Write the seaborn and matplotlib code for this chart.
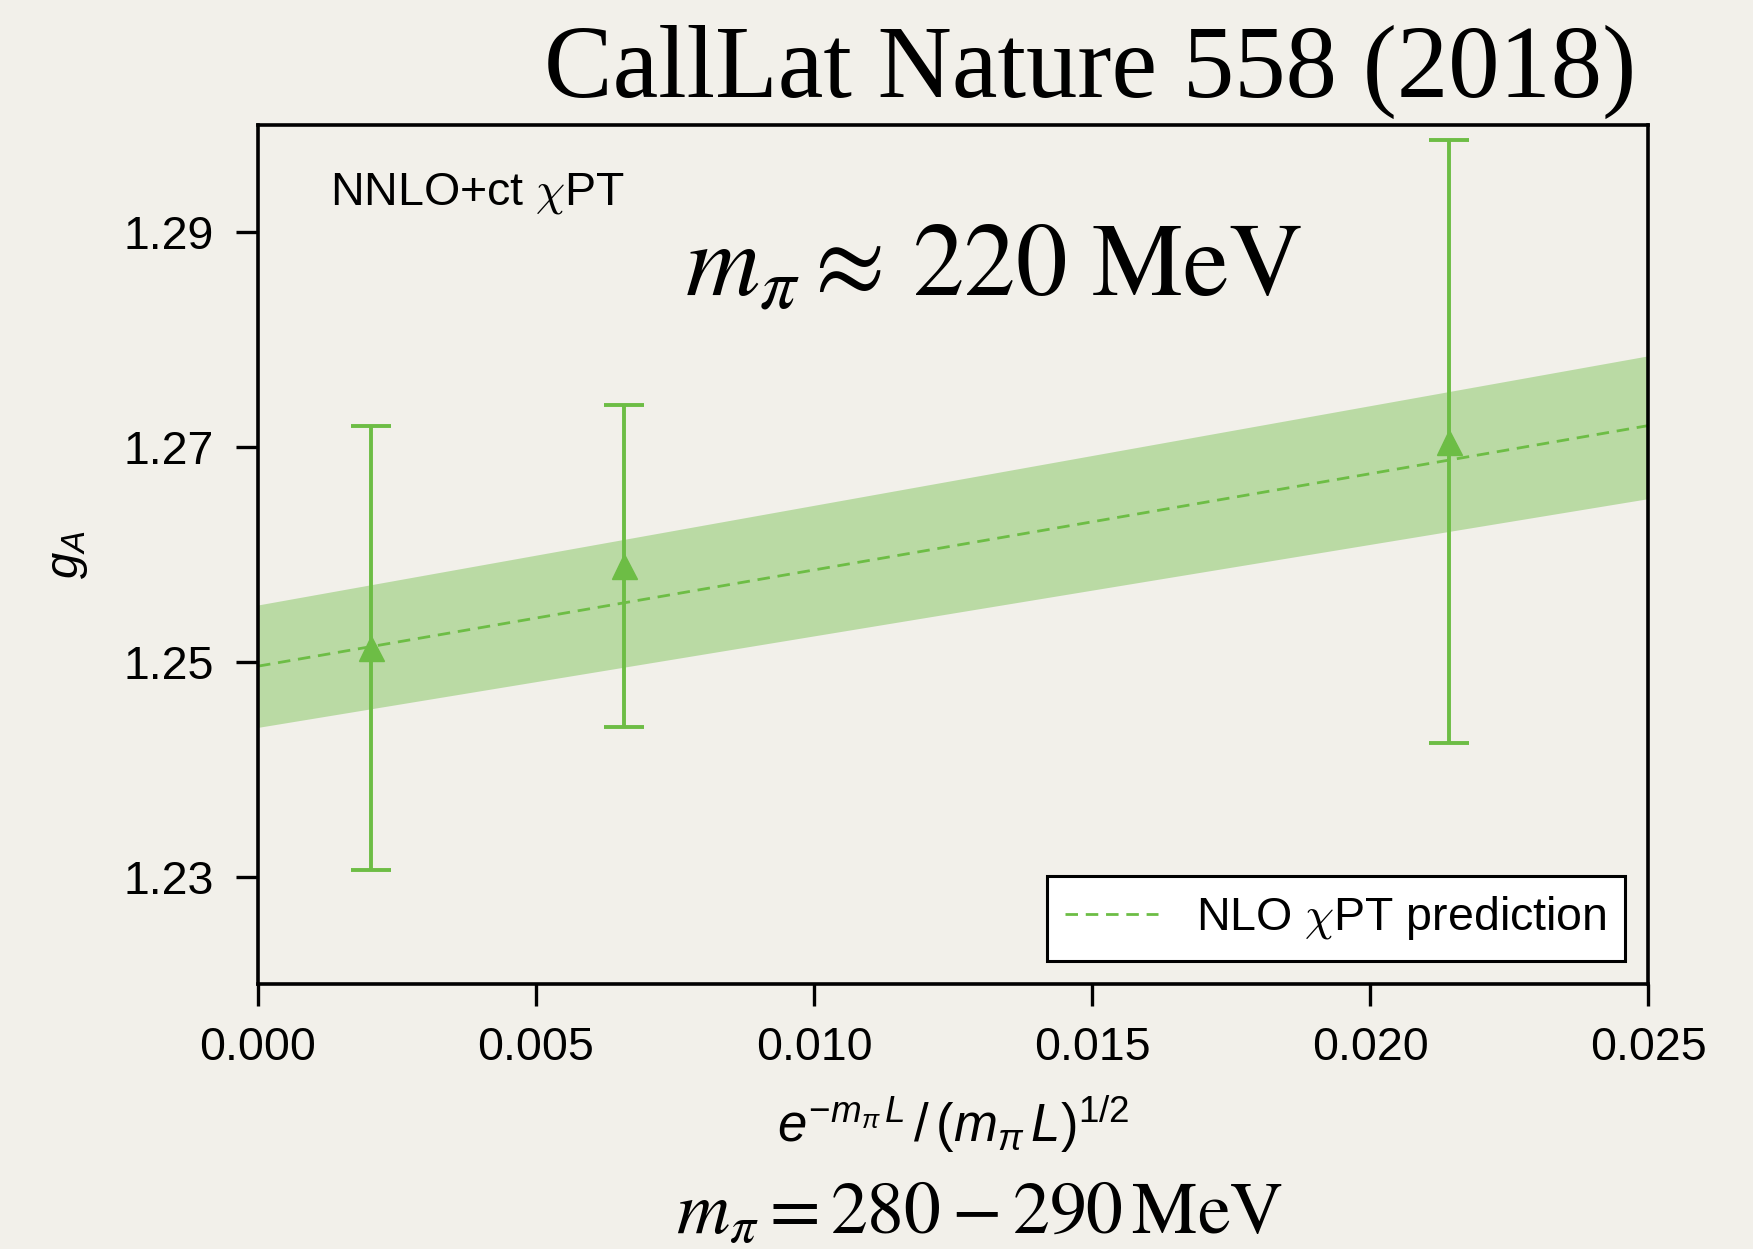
import matplotlib
matplotlib.use("Agg")
import matplotlib.pyplot as plt
from matplotlib.font_manager import FontProperties
import seaborn as sns
import pandas as pd

# Lattice data points (finite-volume parameter vs. g_A)
x_pts = [0.00203, 0.00658, 0.02142]
gA_pts = [1.2513, 1.2589, 1.2705]
gA_err = [0.0207, 0.0150, 0.0281]

# NLO chiPT prediction: central curve and error band
x_fit = [0.0, 0.025]
gA_fit = [1.2496, 1.2720]
gA_lo = [1.2439, 1.2652]
gA_hi = [1.2553, 1.2785]

x_ticks = [0.000, 0.005, 0.010, 0.015, 0.020, 0.025]
y_ticks = [1.23, 1.25, 1.27, 1.29]

green = "#6dbd45"
paper = "#f2f0ea"

sns.set_theme(style="ticks")
plt.rcParams["font.family"] = ["Liberation Sans", "DejaVu Sans"]
plt.rcParams["mathtext.fontset"] = "custom"
plt.rcParams["mathtext.rm"] = "Liberation Sans"
plt.rcParams["mathtext.it"] = "Liberation Sans:italic"
plt.rcParams["mathtext.bf"] = "Liberation Sans:bold"
plt.rcParams["mathtext.sf"] = "Liberation Sans"
plt.rcParams["text.color"] = "black"
plt.rcParams["axes.labelcolor"] = "black"
plt.rcParams["xtick.color"] = "black"
plt.rcParams["ytick.color"] = "black"

W, H = 1753, 1249
fig = plt.figure(figsize=(W / 100, H / 100), dpi=100, facecolor=paper)
ax = fig.add_axes([258 / W, 1 - 984 / H, (1648 - 258) / W, (984 - 125) / H])
ax.set_facecolor(paper)

fit_df = pd.DataFrame({"x": x_fit, "g": gA_fit})
ax.fill_between(x_fit, gA_lo, gA_hi, color=green, alpha=0.42, lw=0, zorder=1)
sns.lineplot(data=fit_df, x="x", y="g", ax=ax, color=green, lw=2.0,
             dashes=False, label=r"NLO $\chi$PT prediction", zorder=2)
ax.lines[-1].set_dashes((4.5, 2.8))

ax.errorbar(x_pts, gA_pts, yerr=gA_err, fmt="^", color=green, ms=18,
            elinewidth=2.8, capsize=14.5, capthick=2.8, zorder=3)

ax.set_xlim(0, 0.025)
ax.set_ylim(1.22, 1.30)
ax.set_xticks(x_ticks)
ax.set_xticklabels([f"{v:.3f}" for v in x_ticks])
ax.set_yticks(y_ticks)
ax.set_yticklabels([f"{v:.2f}" for v in y_ticks])
ax.tick_params(direction="out", length=16, width=2.4, labelsize=33.5,
               colors="black", top=False, right=False)
ax.tick_params(axis="x", pad=14)
ax.tick_params(axis="y", pad=16)
for sp in ax.spines.values():
    sp.set_visible(True)
    sp.set_linewidth(2.6)
    sp.set_color("black")

ax.set_xlabel(r"$e^{-m_\pi\,L}\,/\,(m_\pi\,L)^{1/2}$", fontsize=38, labelpad=17)
ax.set_ylabel(r"$g_A$", fontsize=34, labelpad=24)

leg_font = FontProperties(family="Liberation Sans", size=33.5, math_fontfamily="cm")
leg = ax.legend(loc="lower right", prop=leg_font, frameon=True, fancybox=False,
                framealpha=1, handlelength=2.0, borderaxespad=0.5)
leg.get_frame().set_edgecolor("black")
leg.get_frame().set_linewidth(2.2)
leg.get_frame().set_facecolor("white")

fig.text(330 / W, 1 - 205 / H, r"NNLO+ct $\chi$PT", fontsize=33.5,
         family="Liberation Sans", math_fontfamily="cm", ha="left", va="baseline")
fig.text(685 / W, 1 - 296 / H, r"$m_\pi \approx\,220\ \mathrm{MeV}$", fontsize=74,
         math_fontfamily="stix", ha="left", va="baseline")
fig.text(1636 / W, 1 - 97 / H, "CallLat Nature 558 (2018)", fontsize=74,
         family="Liberation Serif", ha="right", va="baseline")
fig.text(979 / W, 1 - 1233 / H, r"$m_\pi = 280 - 290\,\mathrm{MeV}$", fontsize=53,
         math_fontfamily="stix", ha="center", va="baseline")

fig.savefig("out.png", dpi=100, facecolor=paper)
